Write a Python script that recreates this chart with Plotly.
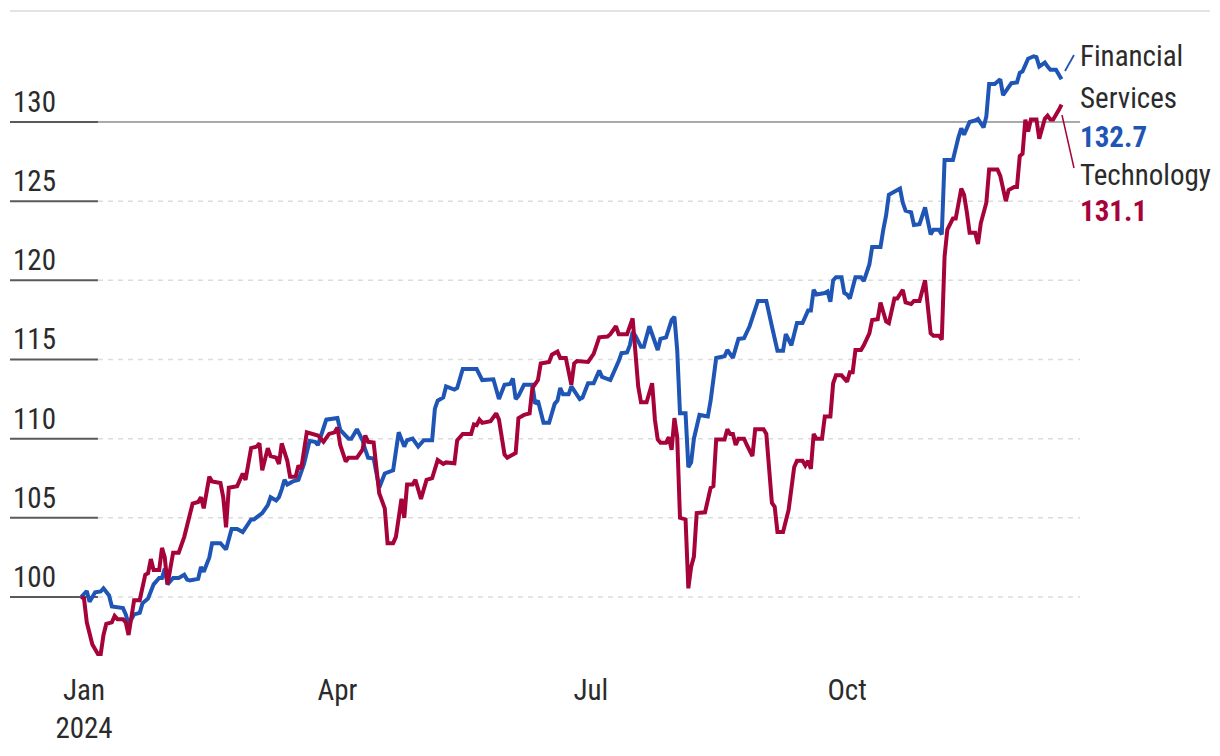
import pandas as pd
import plotly.graph_objects as go

START = pd.Timestamp("2024-01-01")

# Financial Services index (days since 2024-01-01, value)
fin_days = [-1, 1, 2, 4, 6, 7, 9, 10, 14, 15,
            16, 18, 20, 21, 23, 25, 27, 28, 29, 30,
            32, 34, 36, 37, 38, 41, 42, 43, 45, 46,
            49, 51, 53, 55, 57, 60, 61, 64, 66, 67,
            69, 70, 71, 72, 73, 75, 77, 79, 81, 83,
            84, 85, 87, 91, 92, 95, 96, 98, 100, 101,
            102, 104, 106, 108, 111, 113, 115, 116, 118, 120,
            122, 125, 126, 127, 129, 130, 133, 134, 136, 141,
            143, 147, 149, 151, 153, 154, 155, 156, 158, 161,
            162, 163, 165, 167, 169, 170, 171, 172, 174, 175,
            178, 179, 181, 183, 185, 186, 189, 192, 193, 195,
            196, 197, 198, 200, 201, 203, 206, 207, 209, 211,
            212, 213, 214, 216, 217, 218, 219, 221, 224, 225,
            227, 230, 231, 233, 235, 237, 239, 242, 245, 247,
            249, 251, 252, 254, 256, 258, 260, 261, 262, 263,
            266, 267, 268, 269, 270, 272, 273, 274, 275, 277,
            279, 280, 282, 283, 286, 287, 288, 289, 292, 293,
            294, 295, 297, 298, 300, 302, 304, 305, 307, 308,
            309, 312, 314, 315, 316, 318, 320, 321, 323, 324,
            325, 327, 329, 330, 332, 333, 335, 336, 337, 339,
            341, 342, 343, 345, 346, 347, 349, 351]
fin_vals = [100.0, 100.38, 99.7, 100.3, 100.35, 100.55, 100.1, 99.4, 99.3, 98.9,
            98.3, 98.9, 99.0, 99.6, 99.9, 100.8, 101.2, 101.2, 101.8, 100.8,
            101.2, 101.2, 101.4, 101.1, 101.05, 101.15, 101.9, 101.6, 102.5, 103.4,
            103.4, 103.0, 104.3, 104.3, 104.1, 104.9, 104.9, 105.3, 105.8, 106.3,
            106.1, 106.3, 106.8, 107.4, 107.1, 107.3, 107.4, 108.4, 109.85, 109.8,
            109.6, 110.2, 111.2, 111.3, 110.55, 110.0, 110.0, 110.6, 109.9, 109.3,
            108.8, 108.75, 106.9, 107.8, 108.0, 110.4, 109.5, 109.9, 110.0, 109.5,
            109.9, 109.9, 111.9, 112.4, 112.6, 113.3, 113.1, 113.2, 114.4, 114.4,
            113.7, 113.75, 112.5, 113.4, 113.45, 113.8, 112.5, 112.7, 113.4, 113.4,
            112.2, 112.4, 111.0, 111.0, 112.2, 112.4, 113.2, 112.8, 112.8, 113.3,
            112.5, 112.6, 113.5, 113.5, 114.3, 113.9, 113.7, 114.9, 115.4, 115.45,
            115.9, 116.75, 116.5, 115.8, 115.8, 117.1, 115.6, 116.3, 116.4, 117.5,
            117.7, 115.6, 111.6, 111.6, 108.2, 108.5, 110.0, 111.5, 111.4, 112.4,
            115.1, 115.2, 115.6, 115.1, 116.3, 116.35, 117.1, 118.7, 118.7, 117.1,
            115.55, 115.55, 116.6, 115.9, 117.3, 117.3, 118.1, 118.1, 119.4, 119.1,
            119.2, 119.3, 118.65, 120.0, 120.2, 120.2, 119.2, 119.1, 118.85, 120.2,
            120.2, 119.95, 121.0, 122.1, 122.1, 123.2, 124.1, 125.4, 125.7, 125.8,
            124.9, 124.4, 124.3, 123.5, 123.55, 124.6, 122.9, 123.2, 123.2, 122.9,
            127.6, 127.6, 129.05, 129.6, 129.2, 130.0, 130.1, 130.2, 129.65, 130.35,
            132.4, 132.4, 132.7, 131.7, 132.2, 132.45, 132.5, 133.1, 133.2, 134.0,
            134.15, 134.1, 133.5, 133.75, 133.5, 133.3, 133.3, 132.7]

# Technology index (days since 2024-01-01, value)
tech_days = [-1, 0, 1, 3, 5, 6, 7, 8, 10, 11,
             12, 14, 15, 16, 18, 20, 22, 23, 24, 25,
             27, 28, 29, 30, 32, 34, 36, 39, 41, 42,
             43, 45, 46, 49, 50, 51, 52, 55, 57, 58,
             60, 62, 63, 64, 66, 67, 69, 70, 71, 73,
             74, 76, 77, 78, 80, 82, 84, 86, 88, 90,
             91, 92, 94, 95, 98, 100, 101, 102, 104, 106,
             108, 109, 111, 112, 114, 115, 116, 118, 119, 121,
             123, 125, 127, 129, 130, 133, 134, 136, 139, 140,
             141, 142, 143, 146, 148, 149, 151, 152, 154, 155,
             156, 158, 160, 161, 163, 164, 167, 168, 170, 171,
             173, 175, 176, 177, 181, 183, 185, 188, 189, 191,
             192, 195, 197, 198, 199, 200, 202, 204, 205, 206,
             207, 209, 210, 211, 212, 213, 214, 216, 217, 218,
             219, 220, 223, 225, 226, 227, 230, 231, 232, 233,
             234, 235, 237, 238, 240, 241, 244, 245, 247, 248,
             249, 251, 253, 255, 256, 258, 259, 260, 261, 262,
             263, 265, 266, 268, 269, 270, 272, 274, 275, 276,
             277, 279, 280, 282, 283, 285, 286, 288, 289, 291,
             292, 294, 295, 297, 298, 300, 302, 304, 305, 307,
             308, 309, 310, 312, 313, 315, 316, 317, 318, 320,
             321, 322, 324, 325, 328, 329, 331, 332, 334, 335,
             336, 337, 338, 339, 340, 342, 343, 345, 346, 347,
             348, 350, 351]
tech_vals = [100.0, 99.9, 98.4, 97.0, 96.4, 96.4, 97.6, 98.3, 98.4, 98.8,
             98.6, 98.6, 98.4, 97.6, 99.8, 99.8, 101.4, 101.5, 102.4, 101.7,
             101.7, 103.1, 102.5, 100.8, 102.8, 102.8, 103.8, 105.9, 106.0, 106.3,
             105.6, 107.6, 107.3, 107.2, 106.3, 104.4, 106.9, 107.0, 107.8, 107.4,
             109.4, 109.5, 109.7, 108.0, 109.4, 108.9, 108.8, 108.4, 109.7, 108.6,
             107.6, 107.6, 108.3, 108.1, 110.4, 110.3, 110.2, 109.8, 110.3, 110.4,
             110.7, 109.6, 108.55, 108.8, 108.8, 109.3, 110.2, 109.8, 109.75, 106.55,
             105.6, 103.4, 103.4, 103.8, 106.2, 105.0, 107.1, 107.1, 107.4, 106.2,
             107.4, 107.5, 108.65, 108.4, 108.5, 108.45, 109.9, 110.3, 110.3, 110.9,
             110.85, 111.2, 111.0, 111.1, 111.6, 111.2, 109.0, 108.8, 109.05, 109.1,
             111.3, 111.5, 111.6, 113.2, 113.7, 114.75, 114.85, 115.3, 115.5, 115.1,
             115.1, 113.4, 114.75, 114.9, 114.85, 115.35, 116.4, 116.45, 116.6, 117.1,
             116.6, 116.6, 117.6, 115.0, 113.3, 112.3, 112.3, 113.5, 111.2, 109.95,
             109.75, 109.75, 110.1, 109.3, 111.3, 110.1, 105.0, 104.9, 100.55, 101.9,
             102.55, 105.3, 105.35, 106.9, 107.0, 109.95, 109.95, 110.6, 110.3, 110.3,
             109.6, 110.0, 110.0, 109.6, 108.9, 110.6, 110.6, 110.3, 105.95, 105.7,
             104.1, 104.1, 105.5, 108.2, 108.6, 108.6, 108.3, 108.6, 108.1, 110.3,
             110.0, 110.0, 111.4, 111.4, 113.5, 114.0, 114.0, 113.6, 114.2, 114.2,
             115.6, 115.6, 115.9, 116.65, 117.5, 117.55, 118.6, 117.4, 117.3, 118.85,
             118.85, 119.4, 118.6, 118.5, 118.7, 118.7, 120.0, 116.65, 116.5, 116.5,
             116.25, 121.5, 123.2, 123.9, 123.9, 125.8, 125.4, 124.3, 123.0, 123.0,
             122.3, 123.6, 124.9, 127.0, 127.0, 126.6, 125.0, 125.7, 125.9, 125.9,
             127.85, 128.0, 130.15, 129.4, 130.15, 130.15, 128.95, 130.2, 130.4, 130.15,
             130.15, 130.75, 131.1]

assert len(fin_days) == len(fin_vals), (len(fin_days), len(fin_vals))
assert len(tech_days) == len(tech_vals), (len(tech_days), len(tech_vals))

y_ticks = [100, 105, 110, 115, 120, 125, 130]
x_tick_dates = ["2024-01-01", "2024-04-01", "2024-07-01", "2024-10-01"]
x_tick_text = ["Jan<br>2024", "Apr", "Jul", "Oct"]
series_names = ["Financial", "Services", "Technology"]
last_labels = ["132.7", "131.1"]

BLUE = "#1f55b4"
RED = "#a6033a"
TEXT = "#2b2b2b"
FONT = "Roboto Condensed, DejaVu Sans Condensed, Liberation Sans Narrow, Roboto, sans-serif"

fin_dates = [START + pd.Timedelta(days=d) for d in fin_days]
tech_dates = [START + pd.Timedelta(days=d) for d in tech_days]

fig = go.Figure()
fig.add_trace(go.Scatter(x=fin_dates, y=fin_vals, mode="lines", name="Financial Services",
                         line=dict(color=BLUE, width=4), hoverinfo="x+y"))
fig.add_trace(go.Scatter(x=tech_dates, y=tech_vals, mode="lines", name="Technology",
                         line=dict(color=RED, width=4), hoverinfo="x+y"))

shapes = []
TICK_END = 0.0822
for t in y_ticks:
    shapes.append(dict(type="line", xref="paper", yref="y", x0=0, x1=TICK_END, y0=t, y1=t,
                       line=dict(color="#5a5a5a", width=2), layer="below"))
    if t == 130:
        shapes.append(dict(type="line", xref="paper", yref="y", x0=TICK_END, x1=1, y0=t, y1=t,
                           line=dict(color="#555555", width=1), layer="below"))
    else:
        shapes.append(dict(type="line", xref="paper", yref="y", x0=TICK_END, x1=1, y0=t, y1=t,
                           line=dict(color="#dcdcdc", width=1.5, dash="5px,5px"), layer="below"))
# top rule
shapes.append(dict(type="line", xref="paper", yref="paper", x0=0, x1=1.1215, y0=1, y1=1,
                   line=dict(color="#e3e3e3", width=2)))
# leader lines
shapes.append(dict(type="line", xref="paper", yref="paper", x0=0.98598, y0=0.90895, x1=0.99439, y1=0.93323,
                   line=dict(color=BLUE, width=1.8)))
shapes.append(dict(type="line", xref="paper", yref="paper", x0=0.98318, y0=0.84219, x1=0.99439, y1=0.76176,
                   line=dict(color=RED, width=1.5)))

LX = 0.99813
LS = 29
annotations = [
    dict(text=series_names[0], x=LX, y=0.9317, font=dict(color=TEXT, size=LS)),
    dict(text=series_names[1], x=LX, y=0.8680, font=dict(color=TEXT, size=LS)),
    dict(text="<b>" + last_labels[0] + "</b>", x=LX, y=0.8088, font=dict(color=BLUE, size=LS)),
    dict(text=series_names[2], x=LX, y=0.7511, font=dict(color=TEXT, size=LS)),
    dict(text="<b>" + last_labels[1] + "</b>", x=LX, y=0.6958, font=dict(color=RED, size=LS)),
]
for a in annotations:
    a.update(xref="paper", yref="paper", xanchor="left", yanchor="middle", showarrow=False)

x0 = START + pd.Timedelta(days=-26.57)
x1 = START + pd.Timedelta(days=357.63)

fig.update_layout(
    width=1220, height=756,
    margin=dict(l=10, r=140, t=11, b=86),
    paper_bgcolor="white", plot_bgcolor="white",
    showlegend=False,
    font=dict(family=FONT, color=TEXT, size=29),
    shapes=shapes,
    annotations=annotations,
    xaxis=dict(range=[x0, x1], tickvals=x_tick_dates, ticktext=x_tick_text,
               showgrid=False, zeroline=False, showline=False, ticks="",
               tickfont=dict(size=29, color=TEXT, family=FONT)),
    yaxis=dict(range=[95.39, 137.01], tickvals=y_ticks, ticklabelposition="inside top",
               showgrid=False, zeroline=False, showline=False, ticks="",
               tickfont=dict(size=29, color=TEXT, family=FONT)),
)

fig.write_html("out.html")
